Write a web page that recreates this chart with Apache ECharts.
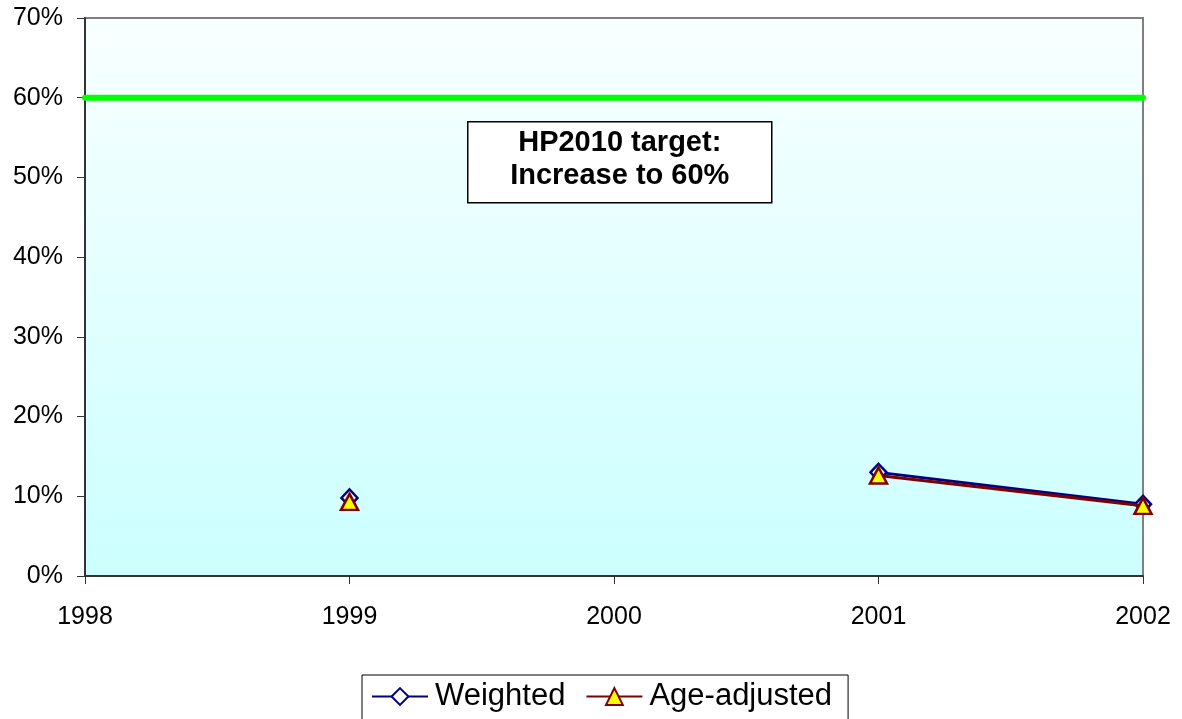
<!DOCTYPE html>
<html><head><meta charset="utf-8">
<script src="https://cdn.jsdelivr.net/npm/echarts@6/dist/echarts.min.js"></script>
<style>html,body{margin:0;padding:0;background:#fff}#c{width:1182px;height:719px}</style>
</head><body><div id="c"></div>
<script>
const years = [1999, 2000, 2001, 2002];
const weighted = [9.8, null, 13.0, 9.0];
const ageAdjusted = [9.3, null, 12.6, 8.8];
const target = 60;
const xRange = [1998, 2002];
const annotation = ['HP2010 target:', 'Increase to 60%'];

const chart = echarts.init(document.getElementById('c'));
const font = 'Arial, "Liberation Sans", sans-serif';
chart.setOption({
  animation: false,
  backgroundColor: '#fff',
  grid: {
    left: 85, right: 39, top: 18, bottom: 143, show: true,
    borderColor: '#808080', borderWidth: 2,
    backgroundColor: new echarts.graphic.LinearGradient(0, 0, 0, 1, [
      {offset: 0, color: '#f9ffff'}, {offset: 1, color: '#ccffff'}])
  },
  xAxis: {
    type: 'value', min: xRange[0], max: xRange[1], interval: 1,
    axisLine: {lineStyle: {color: '#333', width: 2}},
    axisTick: {show: true, length: 8, lineStyle: {color: '#333', width: 1}},
    axisLabel: {color: '#000', fontSize: 25, fontFamily: font, margin: 29, formatter: v => String(v)},
    splitLine: {show: false}
  },
  yAxis: {
    type: 'value', min: 0, max: 70, interval: 10,
    axisLine: {show: true, lineStyle: {color: '#333', width: 2}},
    axisTick: {show: true, length: 8, lineStyle: {color: '#333', width: 1}},
    axisLabel: {color: '#000', fontSize: 25, fontFamily: font, margin: 22, formatter: v => v + '%'},
    splitLine: {show: false}
  },
  legend: {
    top: 675, left: 362,
    data: ['Weighted', 'Age-adjusted'],
    borderColor: '#000', borderWidth: 1, padding: [6, 16, 20, 9],
    itemWidth: 56, itemHeight: 21, itemGap: 20,
    textStyle: {fontSize: 31, fontFamily: font, color: '#000', padding: [0, 0, 0, 2]}
  },
  series: [
    {
      name: 'target', type: 'line', data: xRange.map(x => [x, target]),
      symbol: 'none', lineStyle: {color: '#00ff00', width: 6, cap: 'round'},
      silent: true, z: 1
    },
    {
      name: 'Weighted', type: 'line', connectNulls: false,
      data: years.map((y, i) => [y, weighted[i]]),
      symbol: 'diamond', symbolSize: [16, 17],
      lineStyle: {color: '#000080', width: 3},
      itemStyle: {color: '#fff', borderColor: '#000080', borderWidth: 2.5},
      z: 3
    },
    {
      name: 'Age-adjusted', type: 'line', connectNulls: false,
      data: years.map((y, i) => [y, ageAdjusted[i]]),
      symbol: 'triangle', symbolSize: [17, 16],
      lineStyle: {color: '#800000', width: 3},
      itemStyle: {color: '#ffff00', borderColor: '#800000', borderWidth: 2.5},
      z: 4
    }
  ],
  graphic: [{
    type: 'group', left: 467, top: 121,
    children: [
      {type: 'rect', shape: {x: 0, y: 0, width: 304, height: 81},
       style: {fill: '#fff', stroke: '#000', lineWidth: 1.5}},
      {type: 'text', x: 152, y: 38,
       style: {text: annotation.join('\n'), font: 'bold 29px ' + font, fill: '#000',
               align: 'center', verticalAlign: 'middle', lineHeight: 33}}
    ]
  }]
});
</script></body></html>
